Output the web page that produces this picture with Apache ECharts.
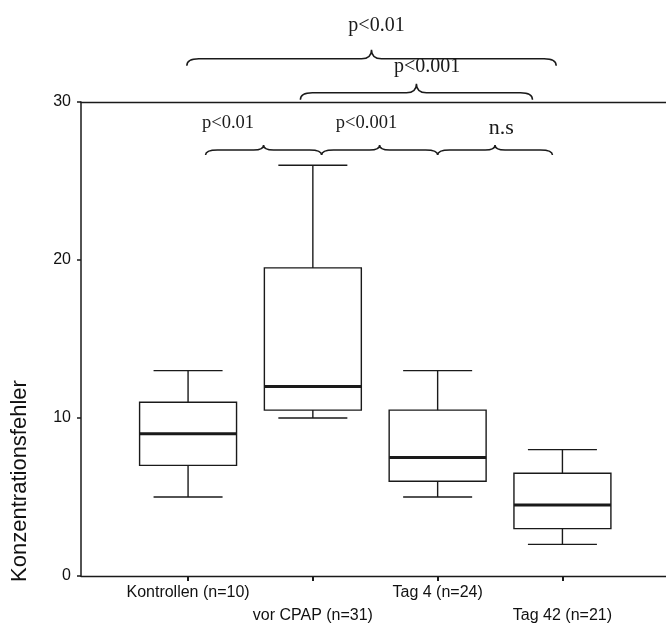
<!DOCTYPE html>
<html><head><meta charset="utf-8">
<script src="https://cdn.jsdelivr.net/npm/echarts@6/dist/echarts.min.js"></script>
<style>html,body{margin:0;padding:0;background:#fff}#c{width:666px;height:628px}</style>
</head><body><div id="c"></div>
<script>
// ---- data ----
const categories = ['Kontrollen (n=10)', 'vor CPAP (n=31)', 'Tag 4 (n=24)', 'Tag 42 (n=21)'];
const whiskerLow  = [5, 10, 5, 2];
const q1          = [7, 10.5, 6, 3];
const median      = [9, 12, 7.5, 4.5];
const q3          = [11, 19.5, 10.5, 6.5];
const whiskerHigh = [13, 26, 13, 8];
const yTicks = [0, 10, 20, 30];

// significance annotations (x in category units, y in axis units)
const braceLabels = ['p<0.01', 'p<0.001', 'n.s', 'p<0.01', 'p<0.001'];
const braceFrom   = [1.14, 2.07, 3.00, 0.99, 1.90];
const braceTo     = [2.07, 3.00, 3.92, 3.95, 3.76];
const braceLevel  = [26.65, 26.65, 26.65, 32.3, 30.15];
const labelX      = [1.32, 2.43, 3.51, 2.51, 2.915];
const labelY      = [28.65, 28.65, 28.35, 34.85, 32.2];

const INK = '#1a1a1a';
const chart = echarts.init(document.getElementById('c'));

const boxData = categories.map((c, i) => [i + 1, whiskerLow[i], q1[i], median[i], q3[i], whiskerHigh[i]]);
const braceData = braceLabels.map((l, i) => [braceFrom[i], braceTo[i], braceLevel[i], labelX[i], labelY[i], i]);

function renderBox(params, api) {
  const x = api.value(0);
  const lo = api.coord([x, api.value(1)]);
  const b1 = api.coord([x, api.value(2)]);
  const md = api.coord([x, api.value(3)]);
  const b3 = api.coord([x, api.value(4)]);
  const hi = api.coord([x, api.value(5)]);
  const bw = api.size([0.777, 0])[0];
  const cw = api.size([0.553, 0])[0];
  const cx = lo[0];
  const ls = { stroke: INK, lineWidth: 1.4, fill: null };
  return {
    type: 'group',
    children: [
      { type: 'rect', shape: { x: cx - bw / 2, y: b3[1], width: bw, height: b1[1] - b3[1] }, style: { stroke: INK, lineWidth: 1.4, fill: '#fff' } },
      { type: 'line', shape: { x1: cx - bw / 2, y1: md[1], x2: cx + bw / 2, y2: md[1] }, style: { stroke: INK, lineWidth: 3 } },
      { type: 'line', shape: { x1: cx, y1: b3[1], x2: cx, y2: hi[1] }, style: ls },
      { type: 'line', shape: { x1: cx - cw / 2, y1: hi[1], x2: cx + cw / 2, y2: hi[1] }, style: ls },
      { type: 'line', shape: { x1: cx, y1: b1[1], x2: cx, y2: lo[1] }, style: ls },
      { type: 'line', shape: { x1: cx - cw / 2, y1: lo[1], x2: cx + cw / 2, y2: lo[1] }, style: ls }
    ]
  };
}

function renderBrace(params, api) {
  const i = api.value(5);
  const big = i >= 3;
  const p0 = api.coord([api.value(0), api.value(2)]);
  const p1 = api.coord([api.value(1), api.value(2)]);
  const lp = api.coord([api.value(3), api.value(4)]);
  const yE = p0[1];
  const yF = yE - (big ? 7 : 5);
  const yP = yE - (big ? 16 : 10);
  const x0 = p0[0], x1 = p1[0], xm = (x0 + x1) / 2;
  const r = 12, r2 = 10;
  const d = 'M' + x0 + ',' + yE +
    ' Q' + x0 + ',' + yF + ' ' + (x0 + r) + ',' + yF +
    ' L' + (xm - r2) + ',' + yF +
    ' Q' + xm + ',' + yF + ' ' + xm + ',' + yP +
    ' Q' + xm + ',' + yF + ' ' + (xm + r2) + ',' + yF +
    ' L' + (x1 - r) + ',' + yF +
    ' Q' + x1 + ',' + yF + ' ' + x1 + ',' + yE;
  const isNs = braceLabels[i] === 'n.s';
  return {
    type: 'group',
    children: [
      { type: 'path', shape: { pathData: d }, style: { stroke: INK, lineWidth: 1.5, fill: null } },
      { type: 'text', x: lp[0], y: lp[1], style: {
          text: braceLabels[i], fill: INK, align: 'center', verticalAlign: 'middle',
          font: (isNs ? '22px' : (big ? '20px' : '18.5px')) + ' "Liberation Serif", "Times New Roman", serif'
        } }
    ]
  };
}

chart.setOption({
  animation: false,
  backgroundColor: '#fff',
  grid: { left: 81, right: 0, top: 102, bottom: 52 },
  xAxis: [{
    type: 'value', min: 0.142, max: 4.83, position: 'bottom',
    axisLine: { show: true, lineStyle: { color: INK, width: 1.4 } },
    axisTick: { show: true, customValues: [1, 2, 3, 4], length: 5, lineStyle: { color: INK, width: 2 } },
    axisLabel: {
      customValues: [1, 2, 3, 4], color: '#111', fontSize: 16, lineHeight: 23, margin: 5,
      fontFamily: '"Liberation Sans", Arial, sans-serif',
      formatter: function (v) { const i = Math.round(v) - 1; return i % 2 === 1 ? '\n' + categories[i] : categories[i]; }
    },
    splitLine: { show: false }
  }, {
    type: 'value', min: 0.142, max: 4.83, position: 'top',
    axisLine: { show: true, lineStyle: { color: INK, width: 1.4 } },
    axisTick: { show: false }, axisLabel: { show: false }, splitLine: { show: false }
  }],
  yAxis: {
    type: 'value', min: yTicks[0], max: yTicks[yTicks.length - 1], interval: 10,
    axisLine: { show: true, lineStyle: { color: INK, width: 1.5 } },
    axisTick: { show: true, length: 4, lineStyle: { color: INK, width: 1.5 } },
    axisLabel: { color: '#111', fontSize: 16, margin: 10, fontFamily: '"Liberation Sans", Arial, sans-serif' },
    splitLine: { show: false }
  },
  graphic: [{
    type: 'text', x: 20, y: 481, rotation: Math.PI / 2,
    style: { text: 'Konzentrationsfehler', fill: '#111', align: 'center', verticalAlign: 'middle',
      font: '22px "Liberation Sans", Arial, sans-serif' }
  }],
  series: [{
    type: 'custom', renderItem: renderBox, data: boxData,
    encode: { x: 0, y: [1, 2, 3, 4, 5] }, z: 3
  }, {
    type: 'custom', renderItem: renderBrace, data: braceData, clip: false,
    encode: { x: [0, 1], y: 2 }, silent: true, z: 4
  }]
});
</script>
</body></html>
